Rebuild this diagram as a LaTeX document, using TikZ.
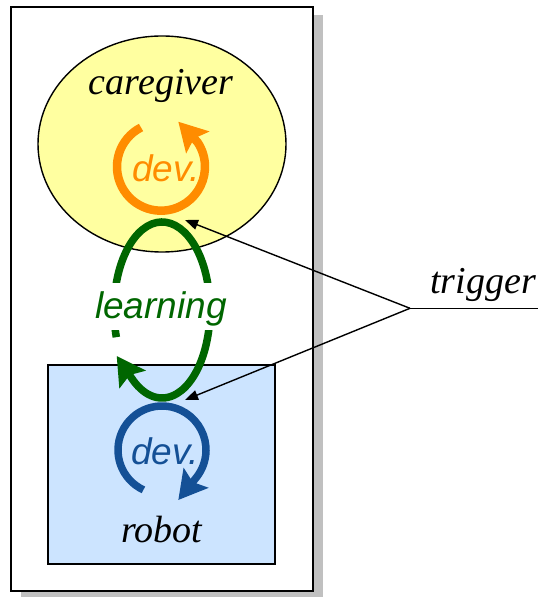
\documentclass[tikz,border=0pt]{standalone}
\usepackage{fontspec}
\setmainfont{Liberation Serif}
\newfontfamily\helv{Liberation Sans}
\usetikzlibrary{arrows.meta}

\definecolor{cgyellow}{RGB}{255,255,160}
\definecolor{rbblue}{RGB}{204,228,255}
\definecolor{devorange}{RGB}{255,140,0}
\definecolor{lrngreen}{RGB}{0,102,0}
\definecolor{devblue}{RGB}{20,80,150}
\definecolor{shadowgray}{RGB}{192,192,192}

\begin{document}
\begin{tikzpicture}[x=1pt,y=1pt,
    serifword/.style={font=\fontsize{38}{44}\selectfont\itshape},
    sansword/.style={font=\fontsize{37}{44}\selectfont\helv\itshape},
    loopline/.style={line width=7.5pt,-{Stealth[length=28pt,width=31pt,inset=5pt]}},
    pointer/.style={line width=1.4pt,-{Triangle[length=13pt,width=10pt]}}]
\useasboundingbox (0,0) rectangle (538,597);

% frame and its shadow
\fill[shadowgray] (21,-2) rectangle (323,582);
\draw[line width=2pt,fill=white] (11,6) rectangle (313,590);

% caregiver and robot
\draw[line width=1.4pt,fill=cgyellow] (162,453) ellipse [x radius=124pt, y radius=108pt];
\draw[line width=1.4pt,fill=rbblue] (48,33) rectangle (275,232);
\node[serifword,anchor=base] (cgname) at (161,502) {caregiver};
\node[serifword,anchor=base] (rbname) at (162,54.7) {robot};

% development loops
\coordinate (cgdev) at (161,430.3);
\coordinate (rbdev) at (162,147);
\coordinate (lrn) at (162,287);
\coordinate (cgdevtip) at (178.3,475.3);
\coordinate (rbdevtip) at (178.3,97);
\coordinate (lrntip) at (116.7,241);
\draw[loopline,devorange,line width=8.5pt] ([shift={(117:44)}]cgdev)
    arc[start angle=117, end angle=394, radius=44pt] -- (cgdevtip);
\draw[loopline,devblue] ([shift={(245:44)}]rbdev)
    arc[start angle=245, end angle=-39, radius=44pt] -- (rbdevtip);
\node[sansword,devorange,anchor=base] (cgdevtext) at (166,415.3) {dev.};
\node[sansword,devblue,anchor=base] (rbdevtext) at (165,132) {dev.};

% learning loop
\draw[loopline,lrngreen] ([shift={(198:48 and 88)}]lrn)
    arc[start angle=198, end angle=-127, x radius=48pt, y radius=88pt] -- (lrntip);
\node[sansword,lrngreen,fill=white,text height=35pt,text depth=12pt,
    inner ysep=0pt,inner xsep=3pt] (lrntext) at (161,290.3) {learning};

% trigger
\coordinate (trig) at (410,288.7);
\coordinate (trigend) at (538,288.7);
\coordinate (cgtip) at (185,377);
\coordinate (rbtip) at (185,197);
\node[serifword,anchor=base] (trigtext) at (483,303.7) {trigger};
\draw[line width=1.4pt] (trigend) -- (trig);
\draw[pointer] (trig) -- (cgtip);
\draw[pointer] (trig) -- (rbtip);
\end{tikzpicture}
\end{document}
